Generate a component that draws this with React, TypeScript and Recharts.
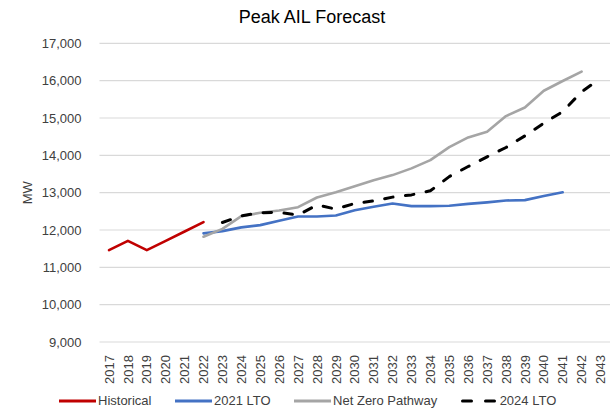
import React from 'react';
import { LineChart, Line, XAxis, YAxis, CartesianGrid } from 'recharts';

// Years on the category axis
const years = [
  '2017', '2018', '2019', '2020', '2021', '2022', '2023', '2024', '2025',
  '2026', '2027', '2028', '2029', '2030', '2031', '2032', '2033', '2034',
  '2035', '2036', '2037', '2038', '2039', '2040', '2041', '2042', '2043',
];

// Peak AIL (MW) per series, each starting at its own first year
const historical = [11460, 11710, 11460, 11710, 11960, 12210]; // 2017-2022
const lto2021 = [
  11910, 11970, 12070, 12130, 12250, 12360, 12360, 12390, 12530, 12620,
  12710, 12640, 12640, 12650, 12700, 12740, 12790, 12800, 12910, 13010,
]; // 2022-2041
const netZero = [
  11820, 12030, 12370, 12460, 12520, 12610, 12870, 13010, 13170, 13330,
  13470, 13650, 13870, 14220, 14480, 14630, 15050, 15280, 15730, 15990, 16240,
]; // 2022-2042
const lto2024 = [
  12200, 12380, 12460, 12470, 12400, 12670, 12560, 12710, 12780, 12880,
  12940, 13050, 13430, 13700, 13960, 14210, 14520, 14860, 15170, 15700, 16060,
]; // 2023-2043

const yTicks = [9000, 10000, 11000, 12000, 13000, 14000, 15000, 16000, 17000];

const pick = (values: number[], startYear: string, year: string) => {
  const i = years.indexOf(year) - years.indexOf(startYear);
  return i >= 0 && i < values.length ? values[i] : null;
};

const data = years.map((year) => ({
  year,
  historical: pick(historical, '2017', year),
  lto2021: pick(lto2021, '2022', year),
  netZero: pick(netZero, '2022', year),
  lto2024: pick(lto2024, '2023', year),
}));

const FONT = '"Liberation Sans", Arial, sans-serif';
const TEXT = '#404040';

const series = [
  { key: 'historical', name: 'Historical', color: '#C00000', dash: undefined },
  { key: 'lto2021', name: '2021 LTO', color: '#4472C4', dash: undefined },
  { key: 'netZero', name: 'Net Zero Pathway', color: '#A5A5A5', dash: undefined },
  { key: 'lto2024', name: '2024 LTO', color: '#000000', dash: '8.5 12.5' },
];

const YearTick = (props: any) => {
  const { x, y, payload } = props;
  return (
    <g transform={`translate(${x},${y})`}>
      <text
        transform="rotate(-90)"
        x={-5}
        y={0}
        dy="0.36em"
        textAnchor="end"
        fill={TEXT}
        fontSize={13}
        fontFamily={FONT}
      >
        {payload.value}
      </text>
    </g>
  );
};

const MwLabel = (props: any) => {
  const vb = props.viewBox || { x: 0, y: 43, height: 299 };
  const cx = vb.x + 28;
  const cy = vb.y + vb.height / 2;
  return (
    <text
      x={cx}
      y={cy}
      transform={`rotate(-90 ${cx} ${cy})`}
      textAnchor="middle"
      dominantBaseline="central"
      fill={TEXT}
      fontSize={13}
      fontFamily={FONT}
    >
      MW
    </text>
  );
};

export default function App() {
  return (
    <div
      style={{
        position: 'relative',
        width: 610,
        height: 414,
        overflow: 'hidden',
        background: '#fff',
        fontFamily: FONT,
      }}
    >
      <style>{'html, body { margin: 0; overflow: hidden; }'}</style>
      <div
        style={{
          position: 'absolute',
          top: 6,
          left: 0,
          width: 624,
          textAlign: 'center',
          fontSize: 18,
          lineHeight: '22px',
          color: '#000',
        }}
      >
        Peak AIL Forecast
      </div>

      <LineChart
        width={610}
        height={414}
        data={data}
        margin={{ top: 43.3, right: 0, bottom: 22, left: 0 }}
      >
        <CartesianGrid vertical={false} stroke="#D9D9D9" strokeWidth={1.2} />
        <XAxis
          dataKey="year"
          interval={0}
          height={50}
          padding={{ left: 9.5, right: 9.5 }}
          axisLine={false}
          tickLine={false}
          tick={<YearTick />}
        />
        <YAxis
          width={99.5}
          domain={[9000, 17000]}
          ticks={yTicks}
          axisLine={false}
          tickLine={false}
          tickMargin={12}
          tickFormatter={(v: number) => v.toLocaleString('en-US')}
          tick={{ fill: TEXT, fontSize: 13, fontFamily: FONT }}
          label={{ content: <MwLabel /> }}
        />
        {series.map((s) => (
          <Line
            key={s.key}
            type="linear"
            dataKey={s.key}
            name={s.name}
            stroke={s.color}
            strokeWidth={s.dash ? 3 : 2.6}
            strokeDasharray={s.dash}
            strokeLinecap="round"
            strokeLinejoin="round"
            dot={false}
            activeDot={false}
            connectNulls={false}
            isAnimationActive={false}
          />
        ))}
      </LineChart>

      {/* legend row under the axis */}
      <div
        style={{
          position: 'absolute',
          top: 392,
          left: 59,
          display: 'flex',
          alignItems: 'center',
          gap: 23.5,
          fontSize: 13,
          lineHeight: '18px',
          color: TEXT,
          whiteSpace: 'nowrap',
        }}
      >
        {series.map((s) => (
          <div key={s.key} style={{ display: 'flex', alignItems: 'center' }}>
            <svg width={37} height={6} style={{ marginRight: 2 }}>
              <line
                x1={s.dash ? 1.5 : 0}
                y1={3}
                x2={s.dash ? 35.5 : 37}
                y2={3}
                stroke={s.color}
                strokeWidth={3}
                strokeDasharray={s.dash ? '9 14' : undefined}
                strokeLinecap={s.dash ? 'round' : 'butt'}
              />
            </svg>
            <span>{s.name}</span>
          </div>
        ))}
      </div>
    </div>
  );
}
